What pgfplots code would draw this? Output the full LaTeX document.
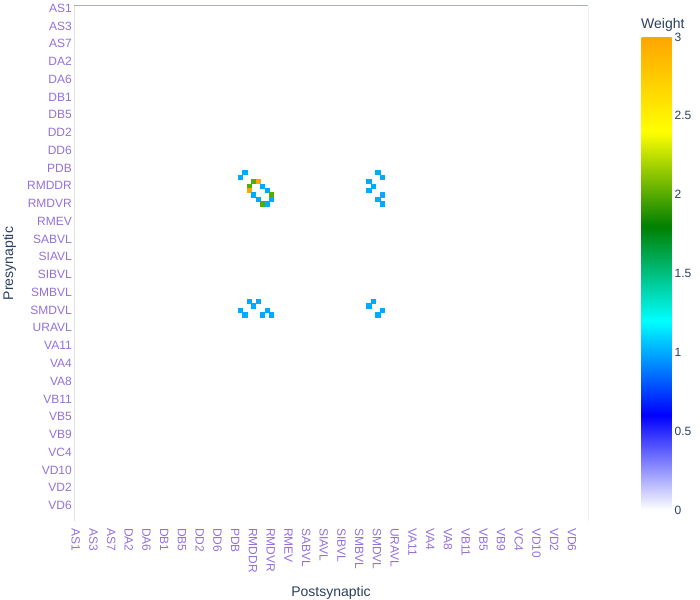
\documentclass[border=0pt]{standalone}
\usepackage{fontspec}
\setmainfont{Liberation Sans}
\usepackage{pgfplots}
\pgfplotsset{compat=1.18}
\definecolor{tickpurple}{RGB}{147,112,219}
\definecolor{titleblue}{HTML}{2A3F5F}
\definecolor{topline}{RGB}{168,174,196}
\definecolor{sideline}{RGB}{222,224,234}

\begin{document}
\begin{tikzpicture}
\path[use as bounding box] (0,0) rectangle (700bp,600bp);
\begin{axis}[
  at={(74bp,79bp)}, anchor=south west,
  scale only axis,
  width=514bp, height=515bp,
  xmin=-0.5, xmax=115.5,
  ymin=-0.5, ymax=115.5,
  y dir=reverse,
  axis line style={draw=none},
  major tick length=0pt,
  xtick={0,4,...,112},
  ytick={0,4,...,112},
  xticklabels={AS1,AS3,AS7,DA2,DA6,DB1,DB5,DD2,DD6,PDB,RMDDR,RMDVR,RMEV,SABVL,SIAVL,SIBVL,SMBVL,SMDVL,URAVL,VA11,VA4,VA8,VB11,VB5,VB9,VC4,VD10,VD2,VD6},
  yticklabels={AS1,AS3,AS7,DA2,DA6,DB1,DB5,DD2,DD6,PDB,RMDDR,RMDVR,RMEV,SABVL,SIAVL,SIBVL,SMBVL,SMDVL,URAVL,VA11,VA4,VA8,VB11,VB5,VB9,VC4,VD10,VD2,VD6},
  xticklabel style={font=\fontsize{12bp}{14bp}\selectfont, text=tickpurple, yshift=-7bp, xshift=-0.5bp, rotate=-90, anchor=west, inner sep=0pt},
  yticklabel style={font=\fontsize{12bp}{14bp}\selectfont, text=tickpurple, anchor=east, inner sep=0pt, xshift=-2bp},
  colormap={weight}{rgb255(0cm)=(255,255,255) rgb255(1cm)=(0,0,255) rgb255(2cm)=(0,255,255) rgb255(3cm)=(0,128,0) rgb255(4cm)=(255,255,0) rgb255(5cm)=(255,165,0)},
  point meta min=0, point meta max=3,
  colorbar,
  colorbar/width=30bp,
  colorbar style={
    scale only axis,
    at={(parent axis.north east)}, anchor=north west,
    xshift=45bp, yshift=-31bp,
    width=30bp, height=473bp,
    axis line style={draw=none},
    major tick length=0pt,
    ytick={0,0.5,1,1.5,2,2.5,3},
    yticklabels={0,0.5,1,1.5,2,2.5,3},
    yticklabel style={font=\fontsize{12bp}{14bp}\selectfont, text=titleblue, inner sep=0pt, xshift=3bp},
  },
]
% nonzero connections: column, row, weight
\addplot[scatter, only marks, mark=square*, mark size=2.1bp,
  point meta=explicit,
  scatter/use mapped color={draw=mapped color, fill=mapped color},
  mark options={line width=0.2bp}]
  table[x=col, y=row, meta=w] {
col row w
38 37 1
37 38 1
40 39 2
41 39 3
39 40 2
42 40 1
39 41 3
43 41 1
40 42 1
44 42 2
41 43 1
44 43 1
42 44 2
43 44 1
68 37 1
69 38 1
66 39 1
67 40 1
66 41 1
69 42 1
68 43 1
69 44 1
39 66 1
41 66 1
40 67 1
37 68 1
43 68 1
38 69 1
42 69 1
44 69 1
67 66 1
66 67 1
69 68 1
68 69 1
};
\end{axis}
\draw[sideline, line width=1bp] (74bp,79bp) -- (74bp,594bp);
\draw[sideline!50, line width=1bp] (588bp,79bp) -- (588bp,594bp);
\draw[topline, line width=1bp] (74bp,594bp) -- (588bp,594bp);
\node[text=titleblue, font=\fontsize{14bp}{16bp}\selectfont, anchor=base] at (331bp,4bp) {Postsynaptic};
\node[text=titleblue, font=\fontsize{14bp}{16bp}\selectfont, anchor=base, rotate=90] at (13bp,336.5bp) {Presynaptic};
\node[text=titleblue, font=\fontsize{14bp}{16bp}\selectfont, anchor=base west, inner sep=0pt] at (641bp,571bp) {Weight};
\end{tikzpicture}
\end{document}
